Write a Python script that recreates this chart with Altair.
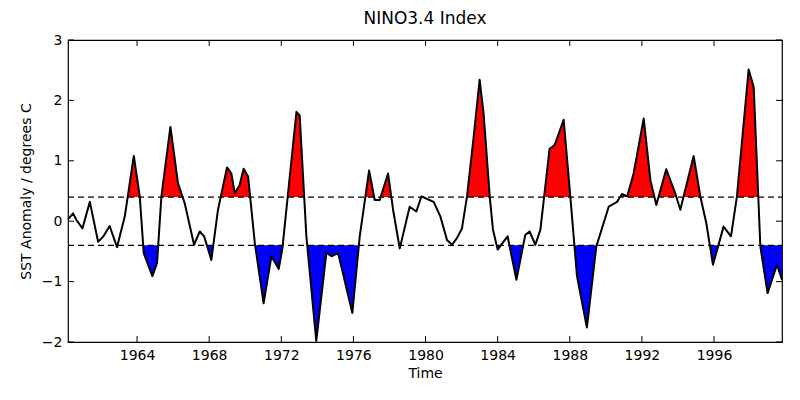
import altair as alt
import pandas as pd

years = [1960.17, 1960.45, 1960.64, 1960.97, 1961.38, 1961.84, 1962.11, 1962.48, 1962.89, 1963.32,
         1963.82, 1964.15, 1964.37, 1964.85, 1965.11, 1965.35, 1965.85, 1966.27, 1966.64, 1967.16,
         1967.48, 1967.72, 1968.12, 1968.49, 1968.99, 1969.23, 1969.42, 1969.69, 1969.91, 1970.16,
         1970.53, 1971.02, 1971.45, 1971.86, 1972.06, 1972.84, 1973.02, 1973.39, 1973.94, 1974.5,
         1974.78, 1975.15, 1975.42, 1975.94, 1976.35, 1976.87, 1977.18, 1977.46, 1977.92, 1978.2,
         1978.57, 1979.12, 1979.49, 1979.77, 1980.0, 1980.45, 1980.82, 1981.19, 1981.47, 1981.74,
         1982.02, 1982.3, 1982.67, 1983.0, 1983.22, 1983.56, 1983.74, 1984.0, 1984.55, 1985.04,
         1985.53, 1985.77, 1986.09, 1986.37, 1986.88, 1987.16, 1987.66, 1988.03, 1988.4, 1988.95,
         1989.47, 1990.16, 1990.62, 1990.9, 1991.18, 1991.54, 1992.1, 1992.47, 1992.8, 1993.35,
         1993.85, 1994.13, 1994.87, 1995.24, 1995.57, 1995.94, 1996.53, 1996.94, 1997.27, 1997.92,
         1998.2, 1998.57, 1998.97, 1999.49, 1999.77]
anomaly = [0.03, 0.13, 0.02, -0.12, 0.32, -0.34, -0.26, -0.08, -0.43, 0.08,
           1.08, 0.41, -0.53, -0.91, -0.69, 0.41, 1.56, 0.63, 0.30, -0.39,
           -0.17, -0.25, -0.64, 0.19, 0.89, 0.79, 0.46, 0.60, 0.87, 0.74,
           -0.36, -1.36, -0.58, -0.79, -0.45, 1.81, 1.75, -0.25, -1.98, -0.52,
           -0.58, -0.53, -0.86, -1.52, -0.25, 0.84, 0.35, 0.35, 0.79, 0.19,
           -0.45, 0.24, 0.16, 0.41, 0.38, 0.32, 0.08, -0.31, -0.39, -0.28,
           -0.12, 0.41, 1.40, 2.34, 1.78, 0.41, -0.14, -0.47, -0.25, -0.97,
           -0.23, -0.17, -0.39, -0.14, 1.20, 1.26, 1.68, 0.41, -0.91, -1.76,
           -0.42, 0.24, 0.32, 0.45, 0.41, 0.79, 1.70, 0.68, 0.27, 0.86,
           0.46, 0.19, 1.08, 0.41, -0.03, -0.72, -0.09, -0.25, 0.41, 2.51,
           2.22, -0.42, -1.19, -0.72, -0.97]
threshold = 0.4
year_ticks = [1964, 1968, 1972, 1976, 1980, 1984, 1988, 1992, 1996]
value_ticks = [-2, -1, 0, 1, 2, 3]

# insert threshold crossings so the fills meet the line exactly
rows = []
for i in range(len(years)):
    if i > 0:
        x0, y0, x1, y1 = years[i - 1], anomaly[i - 1], years[i], anomaly[i]
        for t in (threshold, -threshold):
            if (y0 - t) * (y1 - t) < 0:
                rows.append((x0 + (t - y0) * (x1 - x0) / (y1 - y0), t))
    rows.append((years[i], anomaly[i]))
rows.sort()
df = pd.DataFrame(rows, columns=['Year', 'SST'])
df['hi'] = df['SST'].clip(lower=threshold)
df['lo'] = df['SST'].clip(upper=-threshold)
df['pos'] = threshold
df['neg'] = -threshold

xs = alt.Scale(domain=[1960.17, 1999.77], nice=False, zero=False)
ys = alt.Scale(domain=[-2, 3], nice=False)
xax = alt.X('Year:Q', scale=xs, title='Time',
            axis=alt.Axis(values=year_ticks, format='d', grid=False, ticks=False, domain=False))
yax = alt.Y('SST:Q', scale=ys, title='SST Anomaly / degrees C',
            axis=alt.Axis(values=value_ticks, format='d', grid=False, ticks=False, domain=False))

base = alt.Chart(df)
red = base.mark_area(color='#ff0000', interpolate='linear').encode(
    x=xax, y=alt.Y('hi:Q', scale=ys), y2='pos:Q')
blue = base.mark_area(color='#0000ff', interpolate='linear').encode(
    x=xax, y=alt.Y('lo:Q', scale=ys), y2='neg:Q')
line = base.mark_line(color='black', strokeWidth=2, strokeJoin='round').encode(x=xax, y=yax)

th = pd.DataFrame({'t': [threshold, -threshold]})
dashes = alt.Chart(th).mark_rule(color='black', strokeDash=[6, 4], strokeWidth=1.2).encode(
    y=alt.Y('t:Q', scale=ys), x=alt.value(0), x2=alt.value(714))

yt = pd.DataFrame({'Year': year_ticks})
vt = pd.DataFrame({'v': value_ticks})
xt_bot = alt.Chart(yt).mark_rule(color='black').encode(
    x=alt.X('Year:Q', scale=xs), y=alt.value(302), y2=alt.value(296))
xt_top = alt.Chart(yt).mark_rule(color='black').encode(
    x=alt.X('Year:Q', scale=xs), y=alt.value(0), y2=alt.value(6))
yt_left = alt.Chart(vt).mark_rule(color='black').encode(
    y=alt.Y('v:Q', scale=ys), x=alt.value(0), x2=alt.value(6))
yt_right = alt.Chart(vt).mark_rule(color='black').encode(
    y=alt.Y('v:Q', scale=ys), x=alt.value(708), x2=alt.value(714))

chart = alt.layer(red, blue, line, dashes, xt_bot, xt_top, yt_left, yt_right).properties(
    width=714, height=302,
    title=alt.TitleParams('NINO3.4 Index', fontSize=17, font='DejaVu Sans', fontWeight='normal', offset=5),
    autosize=alt.AutoSizeParams(type='none'),
    padding={'left': 60, 'top': 32, 'right': 10, 'bottom': 40}
).configure_view(
    stroke='black', strokeWidth=1.2
).configure_axis(
    labelFont='DejaVu Sans', labelFontSize=14, labelColor='black',
    titleFont='DejaVu Sans', titleFontSize=14, titleFontWeight='normal', titleColor='black',
    labelPadding=6
).configure_axisY(titlePadding=8)

chart.save("out.html", embed_options={"renderer": "svg", "actions": False})
